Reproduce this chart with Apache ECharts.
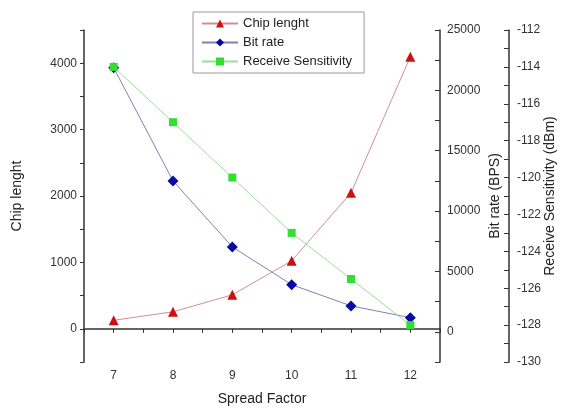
<!DOCTYPE html>
<html>
<head>
<meta charset="utf-8">
<script src="https://cdn.jsdelivr.net/npm/echarts@6/dist/echarts.min.js"></script>
<style>
  html, body { margin: 0; padding: 0; background: #fff; }
  #box { width: 563px; height: 408px; }
</style>
</head>
<body>
<div id="box"></div>
<script>
// data
var spreadFactor = [7, 8, 9, 10, 11, 12];
var chipLength = [128, 256, 512, 1024, 2048, 4096];
var bitRate = [21875, 12500, 7031, 3906, 2148, 1172];
var sensitivity = [-114, -117, -120, -123, -125.5, -128];

function pairs(ys) {
  return spreadFactor.map(function (x, i) { return [x, ys[i]]; });
}

var font = 'Liberation Sans, Arial, sans-serif';
var axisCol = '#333';

function yAxisBase(extra) {
  var base = {
    type: 'value',
    splitLine: { show: false },
    axisLine: { show: true, lineStyle: { color: axisCol, width: 1.5 } },
    axisTick: { show: true, length: 4, lineStyle: { color: axisCol } },
    nameLocation: 'middle',
    nameMoveOverlap: false,
    nameTextStyle: { fontFamily: font, fontSize: 14, color: '#222' }
  };
  for (var k in extra) base[k] = extra[k];
  return base;
}

var chart = echarts.init(document.getElementById('box'));
chart.setOption({
  animation: false,
  grid: { left: 84, right: 123, top: 30, bottom: 46, containLabel: false, outerBoundsMode: 'none' },
  legend: {
    orient: 'vertical',
    left: 193,
    top: 12,
    width: 172,
    padding: [5, 12, 5, 8],
    itemGap: 6,
    itemWidth: 36,
    itemHeight: 10,
    borderColor: '#999',
    borderWidth: 1,
    textStyle: { fontFamily: font, fontSize: 13, color: '#222' },
    data: ['Chip lenght', 'Bit rate', 'Receive Sensitivity']
  },
  xAxis: {
    type: 'value',
    min: 6.5,
    max: 12.5,
    interval: 0.5,
    name: 'Spread Factor',
    nameLocation: 'middle',
    nameGap: 30,
    nameTextStyle: { fontFamily: font, fontSize: 14, color: '#222' },
    splitLine: { show: false },
    axisLine: { lineStyle: { color: axisCol, width: 1.5 } },
    axisTick: { length: 4, lineStyle: { color: axisCol } },
    axisLabel: {
      fontFamily: font, fontSize: 12, color: '#333', margin: 8,
      formatter: function (v) { return v % 1 === 0 ? String(v) : ''; }
    }
  },
  yAxis: [
    yAxisBase({
      position: 'left',
      min: -500, max: 4500, interval: 500,
      name: 'Chip lenght',
      nameGap: 60,
      axisLabel: {
        fontFamily: font, fontSize: 12, color: '#333', margin: 7,
        formatter: function (v) { return v % 1000 === 0 ? String(v) : ''; }
      }
    }),
    yAxisBase({
      position: 'right',
      min: -2500, max: 25000, interval: 2500,
      name: 'Bit rate (BPS)',
      nameGap: 48,
      axisTick: { show: true, inside: true, length: 5, lineStyle: { color: axisCol } },
      axisLabel: {
        fontFamily: font, fontSize: 12, color: '#333', margin: 7,
        formatter: function (v) { return v % 5000 === 0 ? String(v) : ''; }
      }
    }),
    yAxisBase({
      position: 'right',
      offset: 69,
      min: -130, max: -112, interval: 1,
      name: 'Receive Sensitivity (dBm)',
      nameGap: 34,
      axisTick: { show: true, inside: true, length: 5, lineStyle: { color: axisCol } },
      axisLabel: {
        fontFamily: font, fontSize: 12, color: '#333', margin: 8,
        formatter: function (v) { return v % 2 === 0 ? String(v) : ''; }
      }
    })
  ],
  series: [
    {
      name: 'Chip lenght', type: 'line', yAxisIndex: 0,
      data: pairs(chipLength),
      symbol: 'triangle', symbolSize: 10,
      lineStyle: { color: '#d09090', width: 1 },
      itemStyle: { color: '#cc1111' }
    },
    {
      name: 'Bit rate', type: 'line', yAxisIndex: 1,
      data: pairs(bitRate),
      symbol: 'diamond', symbolSize: 11,
      lineStyle: { color: '#8080b8', width: 1 },
      itemStyle: { color: '#0a0aa0' }
    },
    {
      name: 'Receive Sensitivity', type: 'line', yAxisIndex: 2,
      data: pairs(sensitivity),
      symbol: 'rect', symbolSize: 8,
      lineStyle: { color: '#99dd99', width: 1 },
      itemStyle: { color: '#33dd33' }
    }
  ]
});
</script>
</body>
</html>
